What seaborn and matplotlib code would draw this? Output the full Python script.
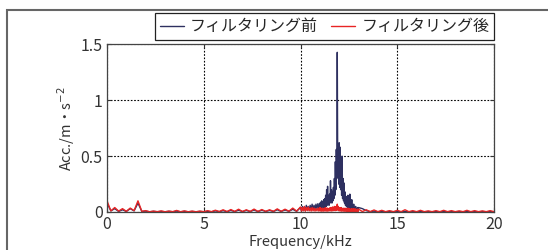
import pandas as pd
import seaborn as sns
import matplotlib.pyplot as plt
from matplotlib.patches import Rectangle

# Spectrum (frequency in kHz, amplitude in m/s^2)
freq_low = [0.0, 0.2, 0.4, 0.6, 0.8, 1.0, 1.2, 1.4, 1.6, 1.8,
            2.0, 2.2, 2.4, 2.6, 2.8, 3.0, 3.2, 3.4, 3.6, 3.8,
            4.0, 4.2, 4.4, 4.6, 4.8, 5.0, 5.2, 5.4, 5.6, 5.8,
            6.0, 6.2, 6.4, 6.6, 6.8, 7.0, 7.2, 7.4, 7.6, 7.8,
            8.0, 8.2, 8.4, 8.6, 8.8, 9.0, 9.2, 9.4, 9.6, 9.8]
freq_mid = [10.0, 10.05, 10.1, 10.15, 10.2, 10.25, 10.3, 10.35, 10.4, 10.45,
            10.5, 10.55, 10.6, 10.65, 10.7, 10.75, 10.8, 10.85, 10.9, 10.95]
freq_peak = [11.0, 11.025, 11.05, 11.075, 11.1, 11.125, 11.15, 11.175, 11.2, 11.225,
             11.25, 11.275, 11.3, 11.325, 11.35, 11.375, 11.4, 11.425, 11.45, 11.475,
             11.5, 11.525, 11.55, 11.575, 11.6, 11.625, 11.65, 11.675, 11.7, 11.725,
             11.75, 11.775, 11.8, 11.825, 11.85, 11.875, 11.9, 11.925, 11.95, 11.975,
             12.0, 12.025, 12.05, 12.075, 12.1, 12.125, 12.15, 12.175, 12.2, 12.225,
             12.25, 12.275, 12.3, 12.325, 12.35, 12.375, 12.4, 12.425, 12.45, 12.475,
             12.5, 12.525, 12.55, 12.575, 12.6, 12.625, 12.65, 12.675, 12.7, 12.725,
             12.75, 12.775, 12.8, 12.825, 12.85, 12.875, 12.9, 12.925, 12.95, 12.975]
freq_high = [13.0, 13.2, 13.4, 13.6, 13.8, 14.0, 14.2, 14.4, 14.6, 14.8,
             15.0, 15.2, 15.4, 15.6, 15.8, 16.0, 16.2, 16.4, 16.6, 16.8,
             17.0, 17.2, 17.4, 17.6, 17.8, 18.0, 18.2, 18.4, 18.6, 18.8,
             19.0, 19.2, 19.4, 19.6, 19.8, 20.0]

pre_low = [0.08, 0.01, 0.03, 0.005, 0.02, 0.005, 0.03, 0.01, 0.08, 0.005,
           0.008, 0.002, 0.006, 0.002, 0.005, 0.002, 0.006, 0.002, 0.008, 0.002,
           0.006, 0.002, 0.005, 0.002, 0.005, 0.002, 0.006, 0.002, 0.01, 0.003,
           0.012, 0.003, 0.014, 0.004, 0.016, 0.004, 0.014, 0.004, 0.018, 0.004,
           0.016, 0.005, 0.014, 0.005, 0.02, 0.005, 0.018, 0.006, 0.024, 0.006]
pre_mid = [0.04, 0.01, 0.05, 0.015, 0.045, 0.01, 0.06, 0.02, 0.05, 0.015,
           0.06, 0.02, 0.07, 0.02, 0.06, 0.025, 0.07, 0.03, 0.075, 0.03]
pre_peak = [0.08, 0.02, 0.09, 0.03, 0.1, 0.03, 0.09, 0.04, 0.11, 0.04,
            0.12, 0.05, 0.15, 0.05, 0.2, 0.06, 0.23, 0.07, 0.14, 0.06,
            0.16, 0.08, 0.28, 0.1, 0.2, 0.08, 0.18, 0.1, 0.22, 0.12,
            0.3, 0.15, 0.45, 0.2, 0.56, 0.3, 1.43, 0.35, 0.6, 0.25,
            0.62, 0.22, 0.58, 0.2, 0.45, 0.15, 0.5, 0.12, 0.3, 0.1,
            0.26, 0.08, 0.18, 0.06, 0.14, 0.05, 0.12, 0.04, 0.15, 0.04,
            0.1, 0.03, 0.16, 0.03, 0.08, 0.03, 0.11, 0.02, 0.06, 0.02,
            0.07, 0.02, 0.04, 0.015, 0.05, 0.015, 0.03, 0.01, 0.04, 0.01]
pre_high = [0.04, 0.03, 0.012, 0.003, 0.008, 0.002, 0.006, 0.002, 0.005, 0.002,
            0.005, 0.002, 0.005, 0.002, 0.004, 0.002, 0.004, 0.002, 0.004, 0.002,
            0.004, 0.002, 0.004, 0.002, 0.004, 0.002, 0.004, 0.002, 0.004, 0.002,
            0.004, 0.002, 0.004, 0.002, 0.004, 0.002]

post_low = [0.10, 0.01, 0.04, 0.008, 0.03, 0.006, 0.035, 0.012, 0.10, 0.006,
            0.012, 0.002, 0.008, 0.003, 0.01, 0.002, 0.008, 0.003, 0.014, 0.002,
            0.01, 0.002, 0.008, 0.002, 0.008, 0.003, 0.012, 0.003, 0.016, 0.004,
            0.02, 0.004, 0.022, 0.005, 0.025, 0.004, 0.02, 0.005, 0.026, 0.005,
            0.022, 0.006, 0.02, 0.006, 0.028, 0.006, 0.025, 0.007, 0.035, 0.008]
post_mid = [0.045, 0.008, 0.04, 0.01, 0.05, 0.008, 0.04, 0.012, 0.045, 0.01,
            0.035, 0.008, 0.04, 0.01, 0.035, 0.008, 0.03, 0.01, 0.035, 0.008]
post_peak = [0.04, 0.01, 0.035, 0.008, 0.03, 0.01, 0.035, 0.008, 0.03, 0.01,
             0.035, 0.01, 0.04, 0.01, 0.03, 0.008, 0.035, 0.01, 0.03, 0.01,
             0.035, 0.012, 0.04, 0.01, 0.035, 0.01, 0.045, 0.012, 0.04, 0.012,
             0.05, 0.015, 0.045, 0.012, 0.05, 0.015, 0.07, 0.02, 0.05, 0.012,
             0.04, 0.01, 0.035, 0.01, 0.04, 0.008, 0.03, 0.01, 0.035, 0.008,
             0.03, 0.008, 0.035, 0.008, 0.03, 0.008, 0.03, 0.006, 0.035, 0.006,
             0.03, 0.006, 0.028, 0.006, 0.025, 0.006, 0.03, 0.005, 0.025, 0.005,
             0.03, 0.005, 0.025, 0.005, 0.028, 0.005, 0.02, 0.005, 0.025, 0.005]
post_high = [0.025, 0.004, 0.02, 0.003, 0.018, 0.003, 0.015, 0.003, 0.012, 0.003,
             0.015, 0.003, 0.02, 0.003, 0.012, 0.003, 0.015, 0.003, 0.01, 0.003,
             0.012, 0.003, 0.015, 0.003, 0.012, 0.003, 0.01, 0.003, 0.015, 0.003,
             0.012, 0.003, 0.01, 0.003, 0.012, 0.003]

series_names = ["フィルタリング前", "フィルタリング後"]
colors = ["#2e3060", "#e82424"]
xticks = [0, 5, 10, 15, 20]
xtick_labels = ["0", "5", "10", "15", "20"]
yticks = [0, 0.5, 1, 1.5]
ytick_labels = ["0", "0.5", "1", "1.5"]

freq = freq_low + freq_mid + freq_peak + freq_high
pre = pre_low + pre_mid + pre_peak + pre_high
post = post_low + post_mid + post_peak + post_high

df = pd.concat([
    pd.DataFrame({"freq": freq, "acc": pre, "series": series_names[0]}),
    pd.DataFrame({"freq": freq, "acc": post, "series": series_names[1]}),
])

sns.set_style("ticks")
plt.rcParams["font.family"] = ["Noto Sans CJK JP", "DejaVu Sans"]

fig = plt.figure(figsize=(5.48, 2.5), dpi=100)
ax = fig.add_axes([107 / 548, 38 / 250, 387 / 548, 167.5 / 250])

# outer frame of the original figure
fig.patches.append(Rectangle((7 / 548, -0.2), 1.2, 0.962 + 0.2, transform=fig.transFigure,
                             fill=False, edgecolor="#666666", linewidth=1.5))

sns.lineplot(data=df, x="freq", y="acc", hue="series", hue_order=series_names,
             palette=dict(zip(series_names, colors)), estimator=None, sort=True,
             linewidth=1.0, ax=ax)

ax.set_xlim(0, 20)
ax.set_ylim(0, 1.5)
ax.set_xticks(xticks)
ax.set_xticklabels(xtick_labels)
ax.set_yticks(yticks)
ax.set_yticklabels(ytick_labels)
ax.tick_params(direction="in", length=3, top=True, right=True, labelsize=11.5,
               colors="#333333", pad=3)
ax.grid(True, color="black", linestyle=(0, (1.5, 1.5)), linewidth=0.8)
for s in ax.spines.values():
    s.set_color("#444444")
    s.set_linewidth(0.9)

ax.set_xlabel("Frequency/kHz", fontsize=10.5, color="#333333", labelpad=1)
ax.set_ylabel("Acc./m・s$^{-2}$", fontsize=10.5, color="#333333", labelpad=3)

h, l = ax.get_legend_handles_labels()
leg = ax.legend(h, l, loc="lower right", bbox_to_anchor=(1.0, 1.027), ncol=2,
                borderaxespad=0, fancybox=False, framealpha=1, edgecolor="#222222",
                fontsize=11.5, handlelength=1.5, handletextpad=0.4, columnspacing=0.8,
                borderpad=0.3)
leg.get_frame().set_linewidth(0.9)

fig.savefig("out.png", dpi=100)
